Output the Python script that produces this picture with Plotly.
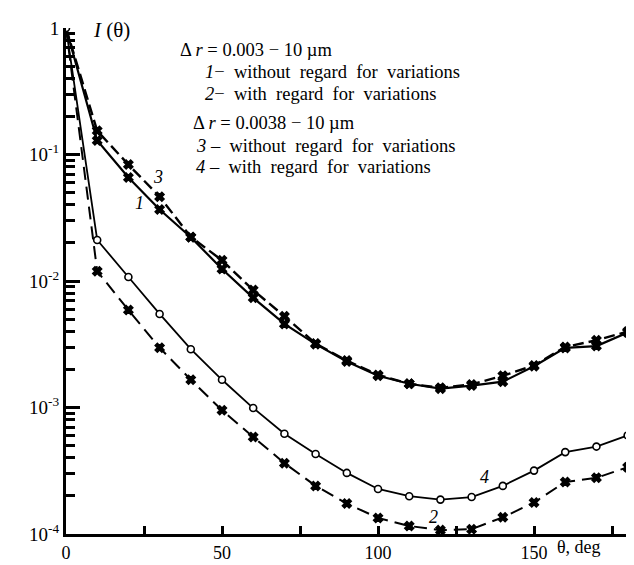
import plotly.graph_objects as go

# ---------------- data ----------------
theta = [0, 10, 20, 30, 40, 50, 60, 70, 80, 90, 100, 110, 120, 130, 140, 150, 160, 170, 180]

# curve 1: dr = 0.003-10 um, without regard for variations
curve1 = [1.0, 0.129, 0.0659, 0.0367, 0.0222, 0.01245, 0.00736, 0.00458, 0.00317, 0.00231,
          0.00178, 0.00154, 0.00141, 0.00149, 0.00160, 0.00212, 0.00296, 0.00306, 0.00391]
# curve 2: dr = 0.003-10 um, with regard for variations
curve2 = [1.0, 0.01196, 0.00589, 0.00297, 0.001656, 0.000950, 0.000585, 0.000363, 0.000240, 0.000174,
          0.000134, 0.0001157, 0.0001073, 0.0001092, 0.0001355, 0.0001774, 0.000258, 0.000278, 0.000337]
# curve 3: dr = 0.0038-10 um, without regard for variations
curve3 = [1.0, 0.1538, 0.0832, 0.0464, 0.0223, 0.01458, 0.00847, 0.00527, 0.00320, 0.00235,
          0.00181, 0.00154, 0.00143, 0.00152, 0.00178, 0.00215, 0.00301, 0.00340, 0.00398]
# curve 4: dr = 0.0038-10 um, with regard for variations
curve4 = [1.0, 0.0211, 0.01076, 0.00549, 0.00289, 0.001656, 0.000990, 0.000620, 0.000429, 0.000304,
          0.000227, 0.000199, 0.000187, 0.000196, 0.000240, 0.000317, 0.000444, 0.000491, 0.000602]

x_tickvals = [0, 50, 100, 150]
x_ticktext = ["0", "50", "100", "150"]
x_minor = [25, 75, 125, 175]
y_tickvals = [1e-4, 1e-3, 1e-2, 1e-1, 1]
y_ticktext = ["10<sup>-4</sup>", "10<sup>-3</sup>", "10<sup>-2</sup>", "10<sup>-1</sup>", "1"]
y_minor = [k * 10.0 ** n for n in range(-4, 0) for k in range(2, 10)]

SP = "&nbsp; "
legend_lines = [
    "Δ <i>r</i> = 0.003 − 10 µm",
    "<i>1</i>−" + SP + "without" + SP + "regard" + SP + "for" + SP + "variations",
    "<i>2</i>−" + SP + "with" + SP + "regard" + SP + "for" + SP + "variations",
    "Δ <i>r</i> = 0.0038 − 10 µm",
    "<i>3</i> –" + SP + "without" + SP + "regard" + SP + "for" + SP + "variations",
    "<i>4</i> –" + SP + "with" + SP + "regard" + SP + "for" + SP + "variations",
]

SERIF = "Liberation Serif, Times New Roman, serif"
W, H = 634, 565
ML, MR, MT, MB = 58, 10, 15, 25


def px(xp):
    return (xp - ML) / (W - ML - MR)


def py(yp):
    return (H - MB - yp) / (H - MT - MB)


n = len(theta)
x_sizes = [0] + [8] * (n - 1)
x_marker = dict(symbol="x", size=x_sizes, color="#000000", opacity=1,
                line=dict(color="#000000", width=1.4))

fig = go.Figure()

fig.add_trace(go.Scatter(
    x=theta, y=curve3, mode="lines+markers", name="3",
    line=dict(color="black", width=2.4, dash="11px,5px"),
    marker=x_marker,
))
fig.add_trace(go.Scatter(
    x=theta, y=curve1, mode="lines+markers", name="1",
    line=dict(color="black", width=2.2),
    marker=x_marker,
))
fig.add_trace(go.Scatter(
    x=theta, y=curve2, mode="lines+markers", name="2",
    line=dict(color="black", width=2.0, dash="13px,7px"),
    marker=x_marker,
))
fig.add_trace(go.Scatter(
    x=theta, y=curve4, mode="lines+markers", name="4",
    line=dict(color="black", width=1.8),
    marker=dict(symbol="circle", size=7, color="white", line=dict(color="black", width=1.6)),
))

annotations = []
leg_pos = [(170, 38), (195, 61), (195, 83), (183, 114), (186, 137), (186, 159)]
for txt, (xp, yp) in zip(legend_lines, leg_pos):
    annotations.append(dict(
        text=txt, xref="paper", yref="paper", x=px(xp), y=py(yp),
        xanchor="left", yanchor="middle", showarrow=False,
        font=dict(family=SERIF, size=18.5, color="black"),
    ))

# axis title I(theta)
annotations.append(dict(
    text="<i>I</i> (θ)", xref="paper", yref="paper", x=px(83), y=py(17),
    xanchor="left", yanchor="middle", showarrow=False,
    font=dict(family=SERIF, size=21, color="black"),
))
# x axis title
annotations.append(dict(
    text="θ, deg", xref="paper", yref="paper", x=px(547), y=py(554),
    xanchor="left", yanchor="middle", showarrow=False,
    font=dict(family=SERIF, size=18, color="black"),
))
# curve labels
for lab, xp, yp in [("3", 150, 170), ("1", 131, 197), ("4", 476, 481), ("2", 425, 522)]:
    annotations.append(dict(
        text="<i>%s</i>" % lab, xref="paper", yref="paper", x=px(xp), y=py(yp),
        xanchor="center", yanchor="middle", showarrow=False,
        font=dict(family=SERIF, size=18, color="black"),
    ))

fig.update_layout(
    width=W, height=H,
    margin=dict(l=ML, r=MR, t=MT, b=MB, pad=0),
    paper_bgcolor="white", plot_bgcolor="white",
    showlegend=False,
    annotations=annotations,
    xaxis=dict(
        range=[0, 181.4], showgrid=False, zeroline=False,
        showline=True, linecolor="black", linewidth=3,
        ticks="inside", ticklen=8, tickwidth=2.5, tickcolor="black",
        tickmode="array", tickvals=x_tickvals, ticktext=x_ticktext,
        tickfont=dict(family=SERIF, size=18, color="black"),
        minor=dict(tickmode="array", tickvals=x_minor, ticks="inside",
                   ticklen=8, tickwidth=2.5, tickcolor="black", showgrid=False),
    ),
    yaxis=dict(
        type="log", range=[-4, 0], showgrid=False, zeroline=False,
        showline=True, linecolor="black", linewidth=3,
        ticks="inside", ticklen=14, tickwidth=3, tickcolor="black",
        tickmode="array", tickvals=y_tickvals, ticktext=y_ticktext,
        tickfont=dict(family=SERIF, size=19, color="black"),
        minor=dict(tickmode="array", tickvals=y_minor, ticks="inside",
                   ticklen=9, tickwidth=2.5, tickcolor="black", showgrid=False),
    ),
)

fig.write_html("out.html")
